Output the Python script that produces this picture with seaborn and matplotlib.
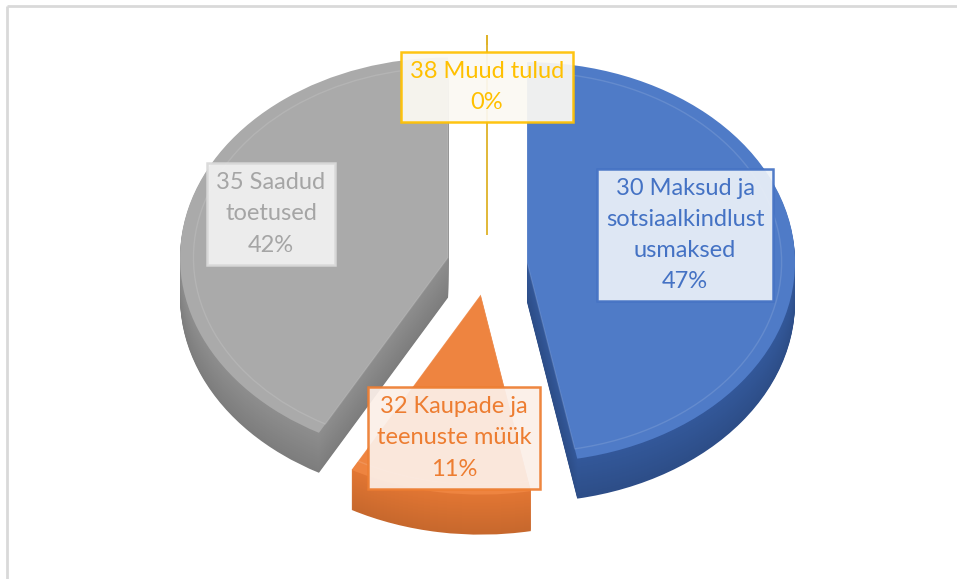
import numpy as np
import matplotlib
matplotlib.use("Agg")
import matplotlib.pyplot as plt
import seaborn as sns
from matplotlib.transforms import Affine2D
import matplotlib.colors as mcolors

# ========================================
# DATA
# ========================================
categories = [
    "30 Maksud ja\nsotsiaalkindlust\nusmaksed",
    "32 Kaupade ja\nteenuste müük",
    "35 Saadud\ntoetused",
    "38 Muud tulud",
]
shares = [47, 11, 42, 0]
top_colors = ["#4F7BC7", "#EE8440", "#AAAAAA", "#FFC000"]
side_colors = ["#33589A", "#E27633", "#8E8E8E", "#BF9000"]
text_colors = ["#4472C4", "#ED7D31", "#A5A5A5", "#FFC000"]
label_edge = ["#4472C4", "#ED7D31", "#D9D9D9", "#FFC000"]
label_face = ["#EAF0F8", "#FBEFE8", "#F2F2F2", "#FBF9F3"]

# ========================================
# LAYOUT (pixel space, y up)
# ========================================
W, H = 957, 579
CX, CY = 487, H - 265
RX, RY = 268, 200
DEPTH = 40
EXPLODE = [0.15] * len(shares)
label_pos = [(685, 235), (454, 438), (271, 214), (487, 87)]

sns.set_theme(style="white")
plt.rcParams['font.family'] = ['Lato', 'DejaVu Sans']

fig = plt.figure(figsize=(W / 100, H / 100), dpi=100)
ax = fig.add_axes([0, 0, 1, 1])


def pie_layer(dy, colors):
    wedges, _ = ax.pie(shares, colors=colors, startangle=90, counterclock=False,
                       explode=EXPLODE, radius=1, center=(0, 0),
                       wedgeprops=dict(linewidth=0))
    tr = Affine2D().scale(RX, RY).translate(CX, CY - dy) + ax.transData
    for w in wedges:
        w.set_transform(tr)
    return wedges


# side walls: stacked layers, a bit darker towards the bottom
for i in range(DEPTH, 0, -1):
    f = 0.88 + 0.12 * (1 - i / DEPTH)
    cols = [tuple(np.array(mcolors.to_rgb(c)) * f) for c in side_colors]
    pie_layer(i, cols)

# top face
top = pie_layer(0, top_colors)
top[3].set_edgecolor("#D9A400")
top[3].set_linewidth(1.2)

# subtle bevel ring on top faces
ring = pie_layer(0, ["none"] * 4)
for w in ring:
    w.set_radius(0.95)
    w.set_facecolor("none")
    w.set_edgecolor(mcolors.to_rgba("white", 0.12))
    w.set_linewidth(1.0)

# data labels
for name, pct, (lx, ly), ec, fc, tc in zip(categories, shares, label_pos,
                                          label_edge, label_face, text_colors):
    ax.text(lx, H - ly, f"{name}\n{pct}%", ha="center", va="center",
            fontsize=17, color=tc, linespacing=1.6,
            bbox=dict(boxstyle="square,pad=0.38", facecolor=fc, alpha=0.93,
                      edgecolor=ec, linewidth=1.8))

# chart border (top and left only visible)
ax.plot([7, 7], [0, H - 6], color="#D9D9D9", lw=2, solid_capstyle="butt")
ax.plot([7, W], [H - 6, H - 6], color="#D9D9D9", lw=2, solid_capstyle="butt")

ax.set_aspect("auto")
ax.set_xlim(0, W)
ax.set_ylim(0, H)
ax.axis("off")

fig.savefig("out.png", dpi=100)
